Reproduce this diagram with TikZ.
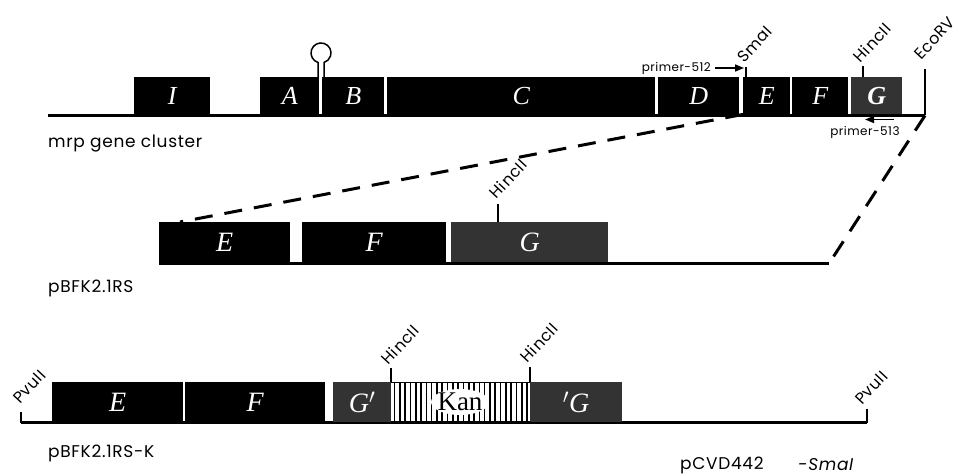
\documentclass[tikz,border=0pt]{standalone}
\usepackage{fontspec}
\usepackage{graphicx}
\setmainfont{Liberation Serif}
\newfontfamily\labelfont[LetterSpace=4]{Poppins}
\usetikzlibrary{arrows.meta}

\newcommand\sitetext[1]{\rotatebox{47}{#1}}

\tikzset{
  gene/.style={fill=black, text=white, inner sep=0pt, anchor=north west,
    font=\itshape\fontsize{26}{26}\selectfont},
  genebig/.style={gene, font=\itshape\fontsize{28}{28}\selectfont},
  greyfill/.style={fill=black!80},
  backbone/.style={line width=2.6pt},
  sitetick/.style={line width=1.8pt},
  sitelabel/.style={font=\labelfont\fontsize{16}{16}\selectfont,
    anchor=south west, inner sep=0pt, xshift=-8.2pt},
  plasmidname/.style={font=\labelfont\fontsize{17}{17}\selectfont, anchor=west, inner sep=0pt},
  primer/.style={font=\labelfont\fontsize{12}{12}\selectfont, inner sep=0pt},
  primerarrow/.style={line width=1.6pt, -{Triangle[length=9pt,width=7pt]}},
  zoomline/.style={line width=3pt, dash pattern=on 18pt off 12pt},
  stripe/.style={line width=1.6pt}
}

\begin{document}
\begin{tikzpicture}[x=1pt,y=-1pt]
\useasboundingbox (0,0) rectangle (958,476);

% ---------- mrp gene cluster ----------
\coordinate (r1start) at (48,115.5);
\coordinate (r1end) at (925,115.5);
\draw[backbone] (r1start) -- (r1end);

\node[gene, minimum width=76pt, minimum height=37pt] (gI) at (134,77) {I};
\node[gene, minimum width=59pt, minimum height=37pt] (gA) at (260,77) {A};
\node[gene, minimum width=62pt, minimum height=37pt] (gB) at (322,77) {B};
\node[gene, minimum width=268pt, minimum height=37pt] (gC) at (387,77) {C};
\node[gene, minimum width=81pt, minimum height=37pt] (gD) at (658,77) {D};
\node[gene, minimum width=47pt, minimum height=37pt] (gE) at (743,77) {E};
\node[gene, minimum width=56pt, minimum height=37pt] (gF) at (792,77) {F};
\node[gene, greyfill, minimum width=51pt, minimum height=37pt,
  font=\bfseries\itshape\fontsize{26}{26}\selectfont] (gG) at (851,77) {G};

% terminator hairpin between A and B
\draw[line width=1.5pt] (318,77) -- (318,62.5)
  arc[start angle=252.5, end angle=-72.5, radius=10pt] -- (324,77);

% restriction sites
\draw[sitetick] (746,67) -- (746,77);
\node[sitelabel] (smaI) at (744,64) {\sitetext{SmaI}};
\draw[sitetick] (863,66) -- (863,77);
\node[sitelabel] (hinc1) at (860,64) {\sitetext{HincII}};
\draw[sitetick] (r1end) -- (925,69);
\node[sitelabel] (ecoRV) at (921,61) {\sitetext{EcoRV}};

% primers
\node[primer, anchor=east] (p512) at (711,68) {primer-512};
\draw[primerarrow] (p512.east) ++(4,0) coordinate (p512s) -- (744,68);
\node[primer] (p513) at (865,132) {primer-513};
\coordinate (p513s) at (894,119.5);
\draw[primerarrow] (p513s) -- (865,119.5);

\node[plasmidname] (mrp) at (48,144) {mrp gene cluster};

% ---------- pBFK2.1RS ----------
\coordinate (r2start) at (159,263.5);
\coordinate (r2end) at (829,263.5);
\draw[backbone] (r2start) -- (r2end);

\node[genebig, minimum width=131pt, minimum height=40pt] (hE) at (159,222) {E};
\node[genebig, minimum width=144pt, minimum height=40pt] (hF) at (302,222) {F};
\node[genebig, greyfill, minimum width=157pt, minimum height=40pt] (hG) at (451,222) {G};

\draw[sitetick] (498,204) -- (498,222);
\node[sitelabel] (hinc2) at (496,200) {\sitetext{HincII}};

\node[plasmidname] (pbfk) at (48,288) {pBFK2.1RS};

% zoom lines
\coordinate (zl) at (180,222);
\draw[zoomline] (gE.south west) -- (zl);
\draw[zoomline] (r1end) -- (r2end);

% ---------- pBFK2.1RS-K ----------
\coordinate (r3start) at (21,422.5);
\coordinate (r3end) at (867,422.5);
\draw[backbone] (r3start) -- (r3end);

\node[genebig, minimum width=131pt, minimum height=40pt] (kE) at (52,382) {E};
\node[genebig, minimum width=140pt, minimum height=40pt] (kF) at (185,382) {F};
\node[genebig, greyfill, minimum width=58pt, minimum height=40pt] (kG1) at (333,382) {G$'$};
\node[genebig, greyfill, minimum width=92pt, minimum height=40pt] (kG2) at (530,382) {$'$G};

% kanamycin cassette
\draw[line width=1pt] (391,382.5) -- (530,382.5);
\foreach \x in {394.5,399.8,...,528} \draw[stripe] (\x,382) -- (\x,421);
\fill[white] (460,402) ellipse [x radius=29pt, y radius=13pt];
\node[font=\fontsize{27}{27}\selectfont, inner sep=0pt] (kan) at (460,402) {Kan};

\draw[sitetick] (391,368) -- (391,382);
\node[sitelabel] (hinc3) at (388,366) {\sitetext{HincII}};
\draw[sitetick] (530,367) -- (530,382);
\node[sitelabel] (hinc4) at (527,364) {\sitetext{HincII}};
\draw[sitetick] (r3start) -- (21,412);
\node[sitelabel] (pvu1) at (20,405) {\sitetext{PvuII}};
\draw[sitetick] (r3end) -- (867,409);
\node[sitelabel] (pvu2) at (862,406) {\sitetext{PvuII}};

\node[plasmidname] (pbfkk) at (48,453) {pBFK2.1RS-K};
\node[plasmidname] (pcvd) at (680,465) {pCVD442};
\node[plasmidname] (sma) at (798,465) {\itshape -SmaI};
\end{tikzpicture}
\end{document}
